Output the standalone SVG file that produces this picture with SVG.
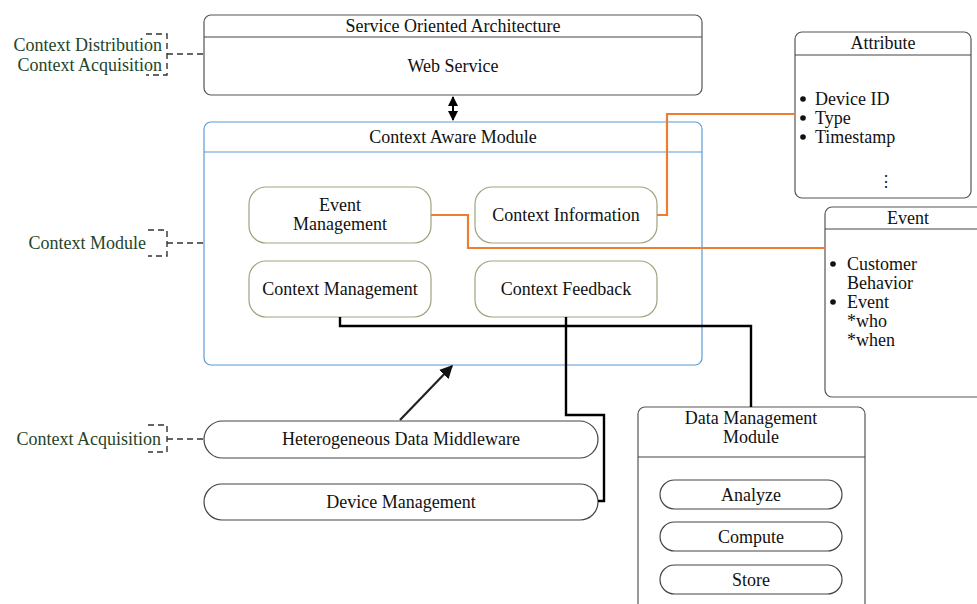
<svg xmlns="http://www.w3.org/2000/svg" width="977" height="604" viewBox="0 0 977 604">
  <style>
    text { font-family: "Liberation Serif", "Times New Roman", serif; font-size: 18px; fill: #111; }
    .c { text-anchor: middle; }
    .lbl { fill: #24452a; text-anchor: end; }
    .box { fill: #fff; stroke: #555; stroke-width: 1.2; }
    .blue { fill: #fff; stroke: #5b9bd5; stroke-width: 1.2; }
    .olive { fill: #fff; stroke: #a3a37f; stroke-width: 1.2; }
    .pill { fill: #fff; stroke: #444; stroke-width: 1.2; }
    .hdr { stroke: #444; stroke-width: 1.2; }
    .hdrb { stroke: #5b9bd5; stroke-width: 1.2; }
    .dash { fill: none; stroke: #333; stroke-width: 1.4; stroke-dasharray: 6 4; }
    .blk { fill: none; stroke: #000; stroke-width: 2.4; }
    .org { fill: none; stroke: #ed7d31; stroke-width: 2.2; }
    .dot { fill: #111; }
  </style>
  <defs>
    <marker id="ah" viewBox="0 0 10 10" refX="9" refY="5" markerWidth="5" markerHeight="5" orient="auto-start-reverse">
      <path d="M0,0 L10,5 L0,10 z" fill="#000"/>
    </marker>
    <marker id="ahL" viewBox="0 0 10 10" refX="9" refY="5" markerWidth="6" markerHeight="6" orient="auto">
      <path d="M0,0 L10,5 L0,10 z" fill="#111"/>
    </marker>
  </defs>

  <rect width="977" height="604" fill="#fff"/>

  <!-- left-hand annotations -->
  <g id="note-distribution">
    <text class="lbl" x="162" y="51">Context Distribution</text>
    <text class="lbl" x="162" y="71">Context Acquisition</text>
    <path class="dash" d="M146,34 H167 V75 H146 M167,54 H204"/>
  </g>
  <g id="note-module">
    <text class="lbl" x="146" y="249">Context Module</text>
    <path class="dash" d="M148,230 H167 V256 H148 M167,243 H204"/>
  </g>
  <g id="note-acquisition">
    <text class="lbl" x="161" y="445">Context Acquisition</text>
    <path class="dash" d="M148,425 H167 V452 H148 M167,439 H204"/>
  </g>

  <!-- Service Oriented Architecture -->
  <g id="soa">
    <rect class="box" x="204" y="15" width="498" height="80" rx="7"/>
    <line class="hdr" x1="204" y1="37" x2="702" y2="37"/>
    <text class="c" x="453" y="32">Service Oriented Architecture</text>
    <text class="c" x="453" y="72">Web Service</text>
  </g>

  <!-- Context Aware Module -->
  <g id="context-aware-module">
    <rect class="blue" x="204" y="122" width="498" height="243" rx="7"/>
    <line class="hdrb" x1="204" y1="152" x2="702" y2="152"/>
    <text class="c" x="453" y="143">Context Aware Module</text>
  </g>
  <g id="event-management">
    <rect class="olive" x="249" y="187" width="182" height="56" rx="17"/>
    <text class="c" x="340" y="211">Event</text>
    <text class="c" x="340" y="230">Management</text>
  </g>
  <g id="context-information">
    <rect class="olive" x="475" y="187" width="182" height="56" rx="17"/>
    <text class="c" x="566" y="221">Context Information</text>
  </g>
  <g id="context-management">
    <rect class="olive" x="249" y="261" width="182" height="56" rx="17"/>
    <text class="c" x="340" y="295">Context Management</text>
  </g>
  <g id="context-feedback">
    <rect class="olive" x="475" y="261" width="182" height="56" rx="17"/>
    <text class="c" x="566" y="295">Context Feedback</text>
  </g>

  <!-- Middleware and devices -->
  <g id="middleware">
    <rect class="pill" x="204" y="421" width="394" height="37" rx="18.5"/>
    <text class="c" x="401" y="445">Heterogeneous Data Middleware</text>
  </g>
  <g id="device-management">
    <rect class="pill" x="204" y="484" width="394" height="36" rx="18"/>
    <text class="c" x="401" y="508">Device Management</text>
  </g>

  <!-- Data Management Module -->
  <g id="data-management">
    <rect class="box" x="638" y="407" width="227" height="210" rx="7"/>
    <line class="hdr" x1="638" y1="457" x2="865" y2="457"/>
    <text class="c" x="751" y="424">Data Management</text>
    <text class="c" x="751" y="443">Module</text>
  </g>
  <g id="analyze">
    <rect class="pill" x="660" y="480" width="182" height="29" rx="14.5"/>
    <text class="c" x="751" y="501">Analyze</text>
  </g>
  <g id="compute">
    <rect class="pill" x="660" y="522" width="182" height="29" rx="14.5"/>
    <text class="c" x="751" y="543">Compute</text>
  </g>
  <g id="store">
    <rect class="pill" x="660" y="565" width="182" height="29" rx="14.5"/>
    <text class="c" x="751" y="586">Store</text>
  </g>

  <!-- Attribute -->
  <g id="attribute">
    <rect class="box" x="795" y="32" width="176" height="166" rx="7"/>
    <line class="hdr" x1="795" y1="55" x2="971" y2="55"/>
    <text class="c" x="883" y="49">Attribute</text>
    <circle class="dot" cx="803" cy="99" r="2.8"/><text x="815" y="105">Device ID</text>
    <circle class="dot" cx="803" cy="118" r="2.8"/><text x="815" y="124">Type</text>
    <circle class="dot" cx="803" cy="137" r="2.8"/><text x="815" y="143">Timestamp</text>
    <text class="c" x="886" y="187" style="font-size:16px">⋮</text>
  </g>

  <!-- Event -->
  <g id="event">
    <rect class="box" x="825" y="207" width="160" height="190" rx="7"/>
    <line class="hdr" x1="825" y1="229" x2="977" y2="229"/>
    <text class="c" x="908" y="224">Event</text>
    <circle class="dot" cx="833" cy="264" r="2.8"/><text x="847" y="270">Customer</text>
    <text x="847" y="289">Behavior</text>
    <circle class="dot" cx="833" cy="302" r="2.8"/><text x="847" y="308">Event</text>
    <text x="847" y="327">*who</text>
    <text x="847" y="346">*when</text>
  </g>

  <!-- connectors -->
  <g id="connectors">
    <line x1="453" y1="97" x2="453" y2="120" stroke="#000" stroke-width="2" marker-start="url(#ah)" marker-end="url(#ah)"/>
    <line x1="400" y1="420" x2="452" y2="366" stroke="#222" stroke-width="2.2" marker-end="url(#ahL)"/>
    <path class="org" d="M657,215 H667 V114 H795"/>
    <path class="org" d="M431,215 H468 V248 H825"/>
    <path class="blk" d="M340,317 V326 H751 V407"/>
    <path class="blk" d="M566,317 V415 H604 V501 H598"/>
  </g>
</svg>
